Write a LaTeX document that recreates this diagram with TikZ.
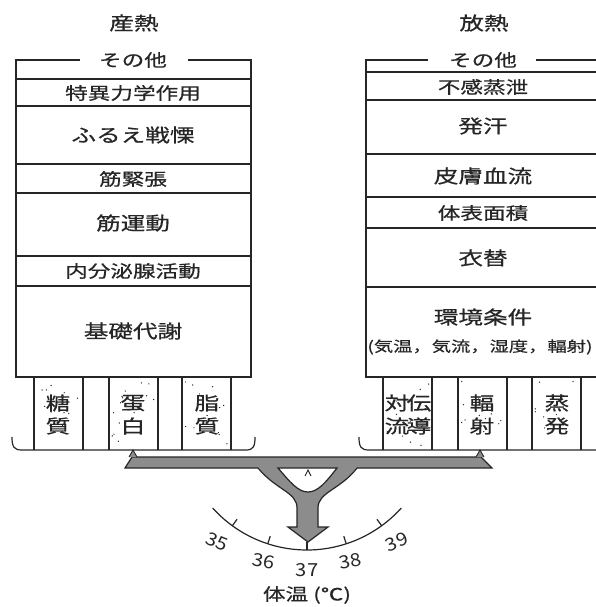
\documentclass[tikz,border=0pt]{standalone}
\usepackage{fontspec}
\usetikzlibrary{calc}
\newfontfamily\jp[FakeStretch=1.33,FakeBold=0.6]{Noto Sans CJK JP}
\newfontfamily\jpnum[FakeStretch=1.12]{Noto Sans CJK JP}
\newcommand\smalljp{\jp\fontsize{17}{19}\selectfont}
\newcommand\bigjp{\jp\fontsize{18.5}{22}\selectfont}
\definecolor{beamgray}{gray}{0.55}
\definecolor{inkgray}{gray}{0.15}
\begin{document}
\begin{tikzpicture}[x=1pt,y=-1pt,line width=1.2pt,draw=inkgray,
  lbl/.style={font=\smalljp,text=inkgray,inner sep=1pt},
  biglbl/.style={font=\bigjp,text=inkgray,inner sep=1pt},
  colchar/.style={font=\bigjp,text=inkgray,inner sep=0pt},
  numlbl/.style={font=\jpnum\fontsize{18}{20}\selectfont,text=inkgray,inner sep=0pt}]
  \useasboundingbox (0,0) rectangle (596,607);
  \clip (0,0) rectangle (596,607);
  % titles
  \node[biglbl] (sanetsu) at (134,23) {産熱};
  \node[biglbl] (hounetsu) at (484,23) {放熱};
  % heat production box
  \draw (80,60) -- (16,60) -- (16,377) -- (251,377) -- (251,60) -- (188,60);
  \foreach \yy in {79,106,164,193,256,286} \draw (16,\yy) -- (251,\yy);
  \node[lbl] (pother) at (133,60) {その他};
  \node[lbl] (sda) at (133,93) {特異力学作用};
  \node[biglbl] (shiver) at (133,135) {ふるえ戦慄};
  \node[lbl] (tonus) at (133,179) {筋緊張};
  \node[biglbl] (muscle) at (133,223) {筋運動};
  \node[lbl] (endo) at (133,271) {内分泌腺活動};
  \node[biglbl] (basal) at (133,331) {基礎代謝};
  % heat loss box
  \draw (428,60) -- (366,60) -- (366,377) -- (600,377);
  \draw (536,60) -- (600,60);
  \foreach \yy in {72,100,154,197,228,287} \draw (366,\yy) -- (600,\yy);
  \node[lbl] (lother) at (483,60) {その他};
  \node[lbl] (insens) at (483,87) {不感蒸泄};
  \node[biglbl] (sweat) at (483,126) {発汗};
  \node[biglbl] (skin) at (483,176) {皮膚血流};
  \node[lbl] (area) at (483,213) {体表面積};
  \node[biglbl] (cloth) at (483,258) {衣替};
  \node[biglbl] (env) at (483,317) {環境条件};
  \node[lbl,font=\jp\fontsize{14.5}{17}\selectfont] (envsub) at (480,347) {(気温，気流，湿度，輻射)};
  % nutrient columns
  \pgfmathsetseed{11}
  \foreach \cx in {34,109,182,383,458,532} {
    \draw (\cx,377) -- (\cx,450) (\cx+49,377) -- (\cx+49,450);
    \foreach \i in {1,...,14} \fill[inkgray] ({\cx+3+rnd*43},{381+rnd*66}) circle (0.7);
  }
  \node[colchar] (tou) at (58,403) {糖};
  \node[colchar] (shitsua) at (58,426) {質};
  \node[colchar] (tan) at (133,403) {蛋};
  \node[colchar] (haku) at (133,426) {白};
  \node[colchar] (shi) at (207,403) {脂};
  \node[colchar] (shitsub) at (207,426) {質};
  \node[colchar] (tai) at (397,403) {対};
  \node[colchar] (den) at (419,403) {伝};
  \node[colchar] (ryu) at (397,426) {流};
  \node[colchar] (dou) at (419,426) {導};
  \node[colchar] (fuku) at (482,403) {輻};
  \node[colchar] (sha) at (482,426) {射};
  \node[colchar] (jou) at (557,403) {蒸};
  \node[colchar] (hatsu) at (557,426) {発};
  % trays
  \draw (12,437) .. controls (12,447) and (14,450) .. (22,450) -- (246,450) .. controls (253,450) and (255,447) .. (255,437);
  \draw (359,437) .. controls (359,447) and (361,450) .. (369,450) -- (600,450);
  % balance
  \fill[beamgray] (125,468) -- (132,457) -- (481,457) -- (492,468) -- cycle;
  \fill[beamgray] (258,467) .. controls (276,490) and (297,492) .. (297,508) -- (297,527) -- (288,527) -- (308,542)
    -- (328,527) -- (318,527) -- (318,508) .. controls (318,492) and (340,490) .. (357,467) -- cycle;
  \draw (258,468) -- (125,468) -- (132,457) -- (481,457) -- (492,468) -- (357,468);
  \draw (258,468) .. controls (276,490) and (297,492) .. (297,508) -- (297,527) -- (288,527) -- (308,542)
    -- (328,527) -- (318,527) -- (318,508) .. controls (318,492) and (340,490) .. (357,468);
  \draw[fill=white] (278,468) .. controls (290,482) and (298,492) .. (308,492) .. controls (318,492) and (326,482) .. (337,468) -- cycle;
  \foreach \fx in {133,480} \draw[fill=beamgray,line width=0.9pt] (\fx-4,457) -- (\fx,450) -- (\fx+4,457);
  \draw[line width=0.9pt] (305,476) -- (308,470) -- (311,476);
  % temperature scale
  \coordinate (ctr) at (307,423);
  \draw ($(ctr)+(138:127)$) arc[start angle=138,end angle=42,radius=127];
  \foreach \t/\ang in {35/126,36/108,37/90,38/72,39/54}
    \draw ($(ctr)+(\ang:127)$) -- ($(ctr)+(\ang:119)$);
  \foreach \t/\ang/\rr in {35/127/149,36/107.5/145,37/90/147,38/72.5/145,39/53/149}
    \node[numlbl,rotate={(90-\ang)*0.6}] (deg\t) at ($(ctr)+(\ang:\rr)$) {\t};
  \node[lbl] (taion) at (307,595) {体温 (℃)};
\end{tikzpicture}
\end{document}
